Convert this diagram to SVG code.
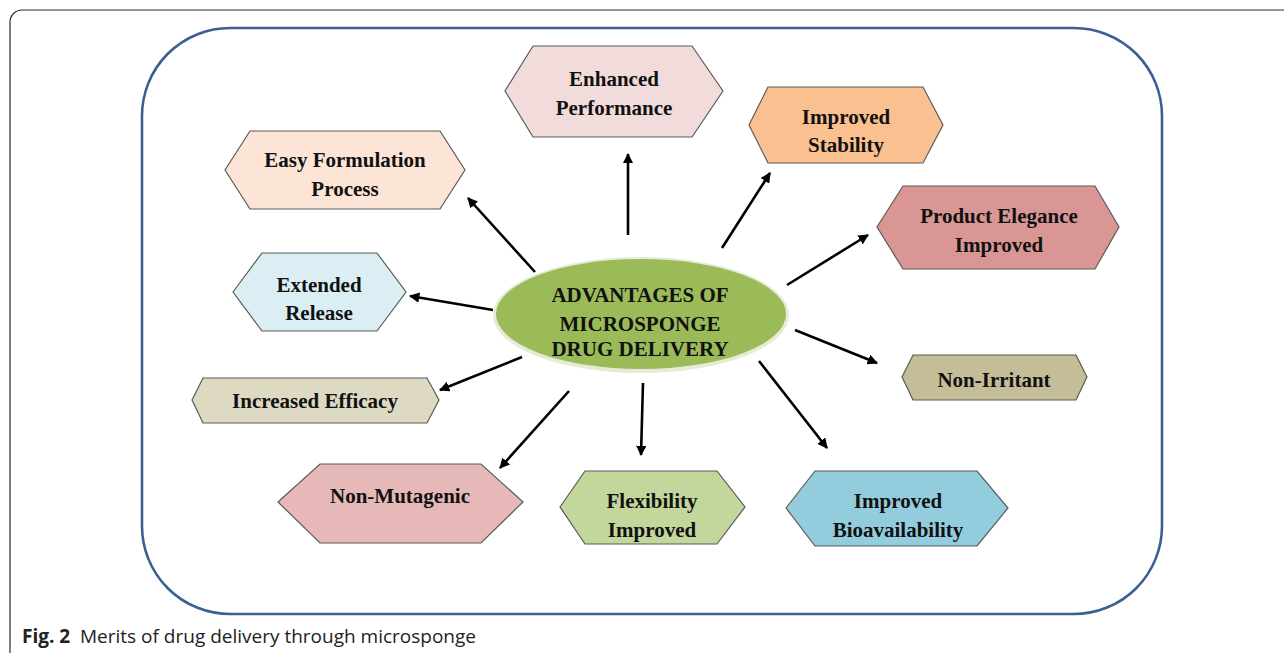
<svg xmlns="http://www.w3.org/2000/svg" width="1284" height="653" viewBox="0 0 1284 653">
<defs>
<style>
.hex{stroke:#5a5a5a;stroke-width:1.2}
.lbl{font-family:"Liberation Serif","Times New Roman",serif;font-weight:bold;font-size:21px;fill:#111;text-anchor:middle}
.ctr{font-family:"Liberation Serif","Times New Roman",serif;font-weight:bold;font-size:21px;fill:#111;text-anchor:middle}
.con{stroke:#000;stroke-width:2.6;fill:none;marker-end:url(#ah)}
.cap{font-family:"Open Sans","Noto Sans",sans-serif;font-size:19px;fill:#222}
</style>
<marker id="ah" viewBox="0 0 10 10" refX="9" refY="5" markerWidth="4" markerHeight="4" orient="auto" markerUnits="strokeWidth">
<path d="M0,0 L10,5 L0,10 Z" fill="#000"/>
</marker>
</defs>
<rect x="0" y="0" width="1284" height="653" fill="#fff"/>
<rect x="10" y="10" width="1300" height="660" rx="12" fill="none" stroke="#2b2b2b" stroke-width="1.2"/>
<rect x="142" y="28" width="1020" height="586" rx="88" ry="88" fill="#fff" stroke="#3c5f93" stroke-width="2.6"/>

<g id="connectors">
<line class="con" x1="535" y1="272" x2="468" y2="198"/>
<line class="con" x1="628" y1="235" x2="628" y2="154"/>
<line class="con" x1="722" y1="248" x2="770" y2="173"/>
<line class="con" x1="787" y1="285" x2="868" y2="235"/>
<line class="con" x1="795" y1="330" x2="877" y2="363"/>
<line class="con" x1="493" y1="310" x2="410" y2="296"/>
<line class="con" x1="522" y1="357" x2="440" y2="390"/>
<line class="con" x1="569" y1="391" x2="500" y2="468"/>
<line class="con" x1="643" y1="383" x2="641" y2="455"/>
<line class="con" x1="759" y1="361" x2="827" y2="448"/>
</g>

<g id="center">
<ellipse cx="641" cy="315" rx="148" ry="58" fill="#e4ecd6"/>
<ellipse cx="641" cy="314" rx="145" ry="55" fill="#9bbb59"/>
<text class="ctr" x="640" y="302">ADVANTAGES OF</text>
<text class="ctr" x="640" y="331">MICROSPONGE</text>
<text class="ctr" x="640" y="356">DRUG DELIVERY</text>
</g>

<g id="easy-formulation">
<polygon class="hex" fill="#fce4d6" points="225,170 250,131 440,131 465,170 440,209 250,209"/>
<text class="lbl" x="345" y="167">Easy Formulation</text>
<text class="lbl" x="345" y="196">Process</text>
</g>

<g id="enhanced-performance">
<polygon class="hex" fill="#f2dcdb" points="505,91 533,46 692,46 723,91 692,137 533,137"/>
<text class="lbl" x="614" y="86">Enhanced</text>
<text class="lbl" x="614" y="115">Performance</text>
</g>

<g id="improved-stability">
<polygon class="hex" fill="#fac090" points="749,125 768,87 923,87 943,125 923,163 768,163"/>
<text class="lbl" x="846" y="124">Improved</text>
<text class="lbl" x="846" y="152">Stability</text>
</g>

<g id="product-elegance">
<polygon class="hex" fill="#d99694" points="877,227 903,186 1095,186 1119,227 1095,269 903,269"/>
<text class="lbl" x="999" y="223">Product Elegance</text>
<text class="lbl" x="999" y="252">Improved</text>
</g>

<g id="non-irritant">
<polygon class="hex" fill="#c4bd97" points="902,377 913,355 1076,355 1087,377 1076,400 913,400"/>
<text class="lbl" x="994" y="387">Non-Irritant</text>
</g>

<g id="extended-release">
<polygon class="hex" fill="#dbeef3" points="233,292 262,253 377,253 406,292 377,331 262,331"/>
<text class="lbl" x="319" y="292">Extended</text>
<text class="lbl" x="319" y="320">Release</text>
</g>

<g id="increased-efficacy">
<polygon class="hex" fill="#ddd9c3" points="192,400 203,378 427,378 439,400 427,423 203,423"/>
<text class="lbl" x="315" y="408">Increased Efficacy</text>
</g>

<g id="non-mutagenic">
<polygon class="hex" fill="#e6b9b8" points="278,502 320,464 481,464 523,502 481,543 320,543"/>
<text class="lbl" x="400" y="503">Non-Mutagenic</text>
</g>

<g id="flexibility-improved">
<polygon class="hex" fill="#c3d69b" points="560,507 585,471 717,471 745,507 717,544 585,544"/>
<text class="lbl" x="652" y="508">Flexibility</text>
<text class="lbl" x="652" y="537">Improved</text>
</g>

<g id="improved-bioavailability">
<polygon class="hex" fill="#93cddd" points="786,508 815,471 977,471 1008,508 977,546 815,546"/>
<text class="lbl" x="898" y="508">Improved</text>
<text class="lbl" x="898" y="537">Bioavailability</text>
</g>

<text class="cap" x="22" y="643"><tspan font-weight="bold">Fig. 2</tspan><tspan x="80">Merits of drug delivery through microsponge</tspan></text>
</svg>
